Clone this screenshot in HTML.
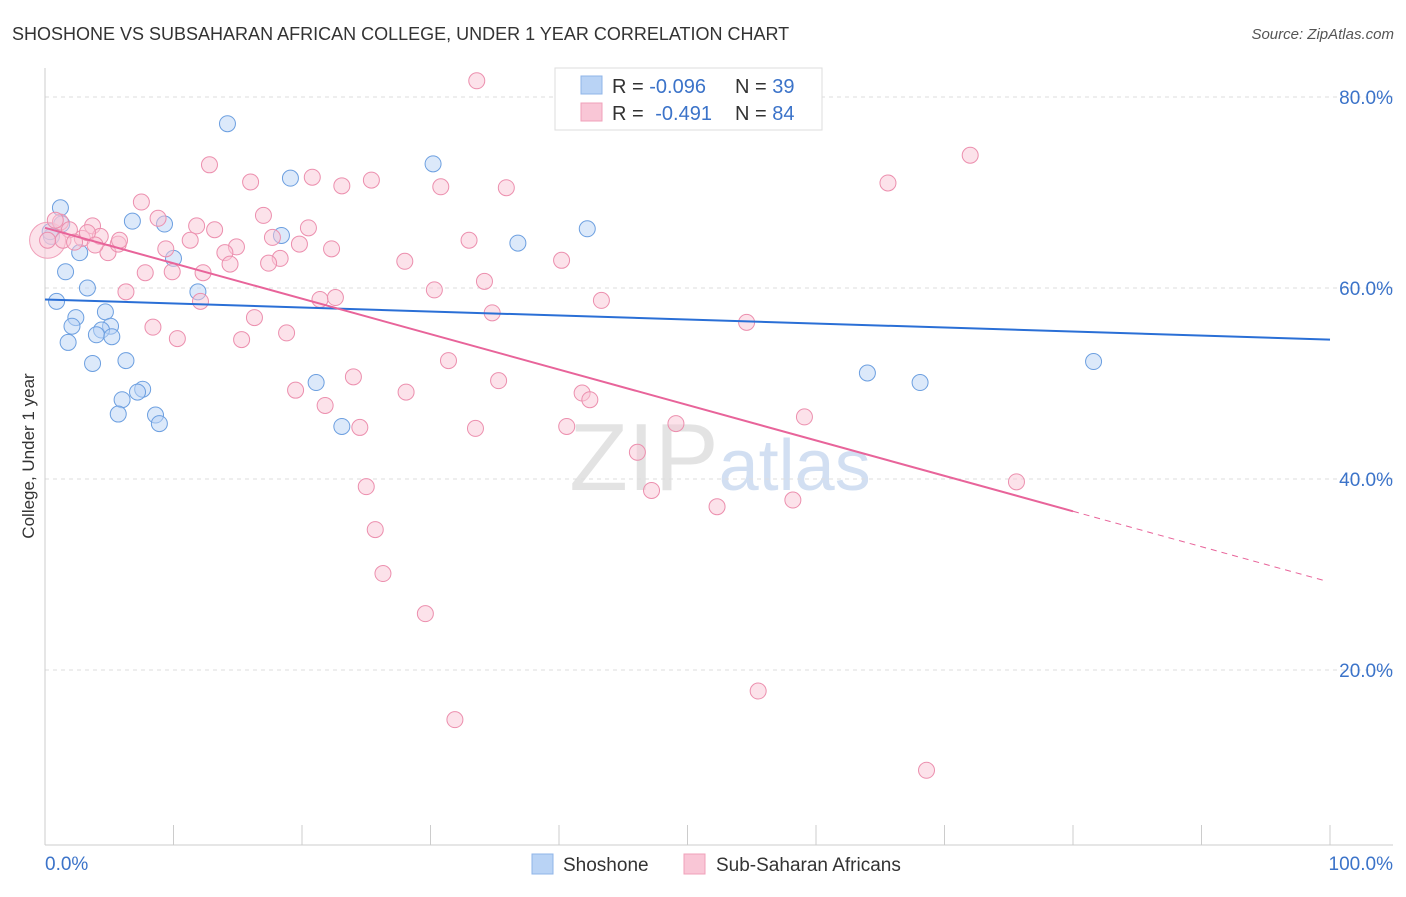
<!DOCTYPE html>
<html><head><meta charset="utf-8"><style>
body{margin:0;background:#fff;font-family:"Liberation Sans",sans-serif}
svg text{font-family:"Liberation Sans",sans-serif}
</style></head><body>
<svg id="chart" width="1406" height="892" xmlns="http://www.w3.org/2000/svg">
<text x="12" y="40" font-size="18" fill="#333">SHOSHONE VS SUBSAHARAN AFRICAN COLLEGE, UNDER 1 YEAR CORRELATION CHART</text>
<text x="1394" y="39" font-size="15" fill="#555" text-anchor="end" font-style="italic">Source: ZipAtlas.com</text>
<text x="720" y="490" font-size="96" fill="#ddd" text-anchor="middle" font-family="Liberation Serif" opacity="0.8">ZIP<tspan fill="#c7d8ef" font-family="Liberation Sans" font-size="72">atlas</tspan></text>
<g id="grid"></g>
<g id="axes"></g>
<g id="blue"></g>
<g id="pink"></g>
<g id="trend"></g>
<text transform="translate(34,456) rotate(-90)" font-size="17" fill="#333" text-anchor="middle">College, Under 1 year</text>
<g>
<rect x="555" y="68" width="267" height="62" fill="#fff" stroke="#ddd"/>
<rect x="581" y="76" width="21" height="18" fill="#b9d3f5" stroke="#8fb5e8"/>
<rect x="581" y="103" width="21" height="18" fill="#f9c6d6" stroke="#f0a0ba"/>
<text x="612" y="93" font-size="20" fill="#333">R = <tspan fill="#3b73c9">-0.096</tspan><tspan x="735">N = </tspan><tspan fill="#3b73c9">39</tspan></text>
<text x="612" y="120" font-size="20" fill="#333">R = <tspan fill="#3b73c9" dx="6">-0.491</tspan><tspan x="735">N = </tspan><tspan fill="#3b73c9">84</tspan></text>
</g>
<g>
<rect x="532" y="854" width="21" height="20" fill="#b9d3f5" stroke="#8fb5e8"/>
<text x="563" y="871" font-size="19" fill="#333">Shoshone</text>
<rect x="684" y="854" width="21" height="20" fill="#f9c6d6" stroke="#f0a0ba"/>
<text x="716" y="871" font-size="19" fill="#333">Sub-Saharan Africans</text>
</g>
</svg>
<script>
const yTicks=[20,40,60,80];
const yTickLabels=["20.0%","40.0%","60.0%","80.0%"];
const blueX=[14.2,19.1,30.2,1.2,6.8,9.3,0.5,18.4,36.8,42.2,1.6,2.7,10.0,3.3,11.9,0.9,2.4,2.1,4.7,5.1,4.4,4.0,5.2,1.8,6.3,3.7,7.6,7.2,6.0,8.6,5.7,8.9,21.1,23.1,64.0,68.1,81.6,0.4,1.3];
const blueY=[77.2,71.5,73.0,68.4,67.0,66.7,65.4,65.5,64.7,66.2,61.7,63.7,63.1,60.0,59.6,58.6,56.9,56.0,57.5,56.0,55.6,55.1,54.9,54.3,52.4,52.1,49.4,49.1,48.3,46.7,46.8,45.8,50.1,45.5,51.1,50.1,52.3,65.9,66.7];
const pinkX=[33.6,12.8,16.0,20.8,23.1,25.4,30.8,35.9,72.0,65.6,7.5,8.8,11.8,13.2,17.0,20.5,9.4,11.3,14.9,17.7,14.0,18.3,19.8,22.3,17.4,14.4,7.8,9.9,12.3,12.1,6.3,28.0,33.0,40.2,34.2,30.3,43.3,21.4,22.6,34.8,8.4,10.3,16.3,15.3,18.8,54.6,31.4,19.5,24.0,21.8,28.1,35.3,41.8,42.4,24.5,33.5,40.6,49.1,59.1,46.1,47.2,52.3,58.2,75.6,25.0,25.7,26.3,29.6,55.5,31.9,68.6,1.2,1.9,2.9,3.7,4.3,4.9,5.7,0.8,1.4,2.3,3.3,5.8,0.2,3.9];
const pinkY=[81.7,72.9,71.1,71.6,70.7,71.3,70.6,70.5,73.9,71.0,69.0,67.3,66.5,66.1,67.6,66.3,64.1,65.0,64.3,65.3,63.7,63.1,64.6,64.1,62.6,62.5,61.6,61.7,61.6,58.6,59.6,62.8,65.0,62.9,60.7,59.8,58.7,58.8,59.0,57.4,55.9,54.7,56.9,54.6,55.3,56.4,52.4,49.3,50.7,47.7,49.1,50.3,49.0,48.3,45.4,45.3,45.5,45.8,46.5,42.8,38.8,37.1,37.8,39.7,39.2,34.7,30.1,25.9,17.8,14.8,9.5,66.9,66.1,65.2,66.5,65.4,63.7,64.6,67.1,65.0,64.8,65.8,65.0,65.0,64.5];
const blueTrend=[58.8,54.6];
const pinkTrend=[66.3,-0.371];
const NS="http://www.w3.org/2000/svg";
const X=v=>45+v*12.85, Y=v=>861-v*9.55;
function mk(t,a,p){const e=document.createElementNS(NS,t);for(const k in a)e.setAttribute(k,a[k]);p.appendChild(e);return e;}
const g=document.getElementById('grid'),ax=document.getElementById('axes');
yTicks.forEach((t,i)=>{
 const l=mk('line',{x1:45,x2:1393,y1:Y(t),y2:Y(t),stroke:'#ddd','stroke-dasharray':'4,4'},g);
 
 
 const tx=mk('text',{x:1393,y:Y(t)+7,'font-size':19,fill:'#3b73c9','text-anchor':'end'},ax);
 tx.textContent=yTickLabels[i];
 
 
});
mk('line',{x1:45,x2:45,y1:68,y2:845,stroke:'#ccc'},ax);
mk('line',{x1:45,x2:1393,y1:845,y2:845,stroke:'#ccc'},ax);
for(let i=0;i<=10;i++){const xx=X(i*10);mk('line',{x1:xx,x2:xx,y1:825,y2:845,stroke:'#ccc'},ax);}
[["0.0%",45,'start'],["100.0%",1393,'end']].forEach(d=>{const t=mk('text',{x:d[1],y:870,'font-size':19,fill:'#3b73c9','text-anchor':d[2]},ax);t.textContent=d[0];
 
 });
const pg=document.getElementById('pink');
const big=mk('circle',{cx:X(0.2),cy:Y(65),r:18,fill:'#f9c6d6','fill-opacity':0.5,stroke:'#f0a0ba'},pg);
pinkX.forEach((v,i)=>{const c=mk('circle',{cx:X(v),cy:Y(pinkY[i]),r:8,fill:'#f9c6d6','fill-opacity':0.5,stroke:'#ec8fae','stroke-width':1},pg);
 
 });
const bg=document.getElementById('blue');
blueX.forEach((v,i)=>{const c=mk('circle',{cx:X(v),cy:Y(blueY[i]),r:8,fill:'#b9d3f5','fill-opacity':0.5,stroke:'#6c9fe0','stroke-width':1},bg);
 
 });
const tg=document.getElementById('trend');
mk('line',{x1:X(0),x2:X(100),y1:Y(blueTrend[0]),y2:Y(blueTrend[1]),stroke:'#2a6fd6','stroke-width':2},tg);
const pt=x=>pinkTrend[0]+pinkTrend[1]*x;
mk('line',{x1:X(0),x2:X(80),y1:Y(pt(0)),y2:Y(pt(80)),stroke:'#e8649a','stroke-width':2},tg);
mk('line',{x1:X(80),x2:X(99.6),y1:Y(pt(80)),y2:Y(pt(99.6)),stroke:'#e8649a','stroke-width':1,'stroke-dasharray':'6,5'},tg);
</script>
</body></html>
